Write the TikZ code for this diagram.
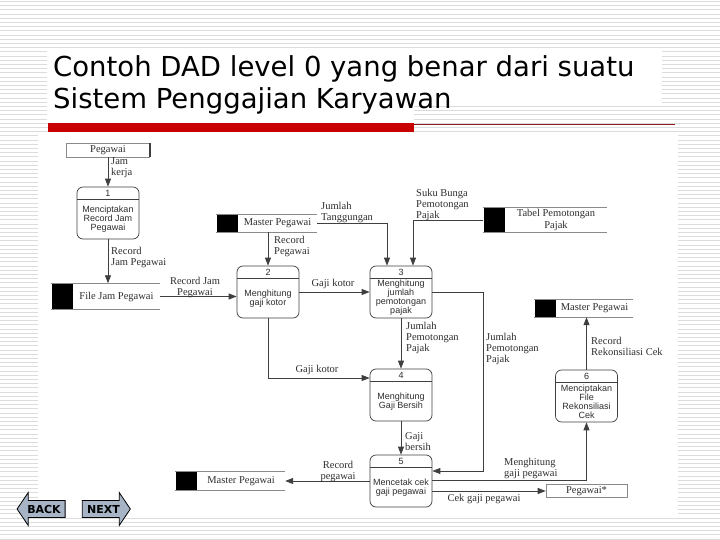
\documentclass[tikz,border=0pt]{standalone}
\usepackage{fontspec}
\usepackage{tikz}
\usetikzlibrary{arrows.meta,positioning,calc,shapes.arrows}
\newfontfamily\titlefont{DejaVu Sans}
\newfontfamily\labfont{Liberation Serif}
\newfontfamily\procfont{Liberation Sans}
\definecolor{ddLine}{HTML}{3F3F3F}
\definecolor{ddText}{HTML}{2E2E2E}
\definecolor{ddStripe}{HTML}{DCDCDC}
\definecolor{ddRed}{HTML}{C80000}
\definecolor{ddDarkRed}{HTML}{8E1B1B}
\definecolor{ddButton}{HTML}{A6B4C6}
\definecolor{ddFrame}{HTML}{8A8A8A}

\begin{document}
\begin{tikzpicture}[
    x=1pt, y=-1pt, >={Triangle[length=8pt,width=6pt]},
    title/.style={font=\titlefont\fontsize{27.5}{32}\selectfont, inner sep=0pt},
    proc/.style={draw=ddLine, line width=0.7pt, rounded corners=6pt, minimum width=62pt, minimum height=52pt, inner sep=0pt,
      path picture={\draw[ddLine, line width=0.7pt] ([yshift=-12.5pt]path picture bounding box.north west) -- ([yshift=-12.5pt]path picture bounding box.north east);}},
    num/.style={font=\procfont\fontsize{9}{9}\selectfont, text=ddText, inner sep=0pt, anchor=north, yshift=-3pt},
    ptext/.style={font=\procfont\fontsize{9}{9}\selectfont, text=ddText, align=center, inner sep=0pt},
    store/.style={font=\labfont\fontsize{10.5}{11.5}\selectfont, text=ddText, align=center, inner sep=0pt, minimum height=17pt},
    sbox/.style={fill=black, inner sep=0pt, minimum width=21pt, anchor=east},
    sline/.style={draw=ddFrame, line width=0.9pt},
    ent/.style={draw=ddFrame, line width=0.6pt, font=\labfont\fontsize{10.5}{11.5}\selectfont, text=ddText, inner sep=0pt},
    lab/.style={font=\labfont\fontsize{10.5}{11}\selectfont, text=ddText, align=left, inner sep=0pt},
    flow/.style={->, draw=ddLine, line width=0.8pt},
    btn/.style={single arrow, draw=black, line width=0.8pt, fill=ddButton, font=\titlefont\bfseries\fontsize{11}{11}\selectfont,
      inner xsep=2pt, inner ysep=4pt, single arrow head extend=8pt, single arrow tip angle=112, minimum height=48pt},
    stripe/.style={draw=ddStripe, line width=1pt},
  ]
  \useasboundingbox (0,0) rectangle (720,540);
  \foreach \sy in {1.5,5.7,...,540} \draw[stripe] (0,\sy) -- (720,\sy);
  \fill[white] (47,48) rectangle (662,106);
  \fill[white] (47,106) rectangle (414,123);
  \fill[white] (38,135) rectangle (678,515);
  \fill[ddRed] (48,123) rectangle (414,132);
  \draw[ddDarkRed, line width=1.3pt] (414,124.5) -- (675,124.5);
  \node[title, anchor=base west] (T1) at (53,76.5) {Contoh DAD level 0 yang benar dari suatu};
  \node[title, anchor=base west] (T2) at (53,109) {Sistem Penggajian Karyawan};

  \node[ent, minimum width=83pt, minimum height=14pt] (PG) at (108,150) {Pegawai};
  \draw[ddLine, line width=1.4pt] (PG.north east) -- (PG.south east);
  \node[ent, minimum width=81pt, minimum height=13pt] (PG2) at (586.5,491) {Pegawai*};

  \node[proc] (P1) at (108,213) {};
  \node[num] (P1n) at (P1.north) {1};
  \node[ptext] (P1t) at ([yshift=-6.5pt]P1.center) {Menciptakan\\Record Jam\\Pegawai};
  \node[proc] (P2) at (268,292) {};
  \node[num] (P2n) at (P2.north) {2};
  \node[ptext] (P2t) at ([yshift=-6.5pt]P2.center) {Menghitung\\gaji kotor};
  \node[proc] (P3) at (401,292) {};
  \node[num] (P3n) at (P3.north) {3};
  \node[ptext] (P3t) at ([yshift=-5.5pt]P3.center) {Menghitung\\jumlah\\pemotongan\\pajak};
  \node[proc] (P4) at (401,395) {};
  \node[num] (P4n) at (P4.north) {4};
  \node[ptext] (P4t) at ([yshift=-6.5pt]P4.center) {Menghitung\\Gaji Bersih};
  \node[proc] (P5) at (401,481) {};
  \node[num] (P5n) at (P5.north) {5};
  \node[ptext] (P5t) at ([yshift=-6.5pt]P5.center) {Mencetak cek\\gaji pegawai};
  \node[proc] (P6) at (586.5,396) {};
  \node[num] (P6n) at (P6.north) {6};
  \node[ptext] (P6t) at ([yshift=-5.5pt]P6.center) {Menciptakan\\File\\Rekonsiliasi\\Cek};

  \node[store, minimum width=87pt, minimum height=26pt] (FJP) at (116.5,296.5) {File Jam Pegawai};
  \node[sbox, minimum height=26pt] (FJPb) at (FJP.west) {};
  \draw[sline] (FJPb.north west) -- (FJP.north east);
  \draw[sline] (FJPb.south west) -- (FJP.south east);
  \node[store, minimum width=79pt] (MP1) at (277.5,223.5) {Master Pegawai};
  \node[sbox, minimum height=17pt] (MP1b) at (MP1.west) {};
  \draw[sline] (MP1b.north west) -- (MP1.north east);
  \draw[sline] (MP1b.south west) -- (MP1.south east);
  \node[store, minimum width=102pt, minimum height=25pt] (TP) at (556,220) {Tabel Pemotongan\\Pajak};
  \node[sbox, minimum height=25pt] (TPb) at (TP.west) {};
  \draw[sline] (TPb.north west) -- (TP.north east);
  \draw[sline] (TPb.south west) -- (TP.south east);
  \node[store, minimum width=77pt] (MP2) at (594.5,308.5) {Master Pegawai};
  \node[sbox, minimum height=17pt] (MP2b) at (MP2.west) {};
  \draw[sline] (MP2b.north west) -- (MP2.north east);
  \draw[sline] (MP2b.south west) -- (MP2.south east);
  \node[store, minimum width=88pt, minimum height=18pt] (MP3) at (241,481) {Master Pegawai};
  \node[sbox, minimum height=18pt] (MP3b) at (MP3.west) {};
  \draw[sline] (MP3b.north west) -- (MP3.north east);
  \draw[sline] (MP3b.south west) -- (MP3.south east);

  \draw[flow] (PG.south) -- (P1.north);
  \node[lab, anchor=west] (L1) at (111,168) {Jam\\kerja};
  \draw[flow] (P1.south) -- (P1.south |- FJP.north);
  \node[lab, anchor=west] (L2) at (111,257) {Record\\Jam Pegawai};
  \draw[flow] (FJP.east) -- (FJP.east -| P2.west);
  \node[lab, align=center] (L3) at (195,287) {Record Jam\\Pegawai};
  \draw[flow] (MP1.south -| P2.north) -- (P2.north);
  \node[lab, anchor=west] (L4) at (274,246) {Record\\Pegawai};
  \draw[flow] (MP1.east) -| ([xshift=-14pt]P3.north);
  \node[lab, anchor=west] (L5) at (321,212) {Jumlah\\Tanggungan};
  \draw[flow] (P2) -- (P3);
  \node[lab] (L6) at (333,284) {Gaji kotor};
  \draw[flow] (TPb.west) -| ([xshift=12pt]P3.north);
  \node[lab, anchor=south west] (L7) at (416,221) {Suku Bunga\\Pemotongan\\Pajak};
  \draw[flow] (P3) -- (P4);
  \node[lab, anchor=west] (L8) at (406,338) {Jumlah\\Pemotongan\\Pajak};
  \draw[flow] (P2.south) |- ([yshift=17pt]P4.west);
  \node[lab] (L9) at (317,370) {Gaji kotor};
  \draw[flow] (P4) -- (P5);
  \node[lab, anchor=west] (L10) at (405,442) {Gaji\\bersih};
  \draw[flow] (P5.west) -- (P5.west -| MP3.east);
  \node[lab, align=center] (L11) at (338,471) {Record\\pegawai};
  \draw[flow] (P3.east) -- ++(51,0) |- ([yshift=10pt]P5.east);
  \node[lab, anchor=west] (L12) at (486,349) {Jumlah\\Pemotongan\\Pajak};
  \draw[flow] ([yshift=1pt]P5.east) -| (P6.south);
  \node[lab, anchor=west] (L13) at (504,468) {Menghitung\\gaji pegawai};
  \draw[flow] ([yshift=-10pt]P5.east) -- ([yshift=-10pt]P5.east -| PG2.west);
  \node[lab] (L14) at (484,499) {Cek gaji pegawai};
  \draw[flow] (P6.north) -- (P6.north |- MP2.south);
  \node[lab, anchor=west] (L15) at (591,346) {Record\\Rekonsiliasi Cek};

  \node[btn, shape border rotate=180] (BK) at (44,509) {BACK};
  \node[btn] (NX) at (103.5,509) {NEXT};
\end{tikzpicture}
\end{document}
